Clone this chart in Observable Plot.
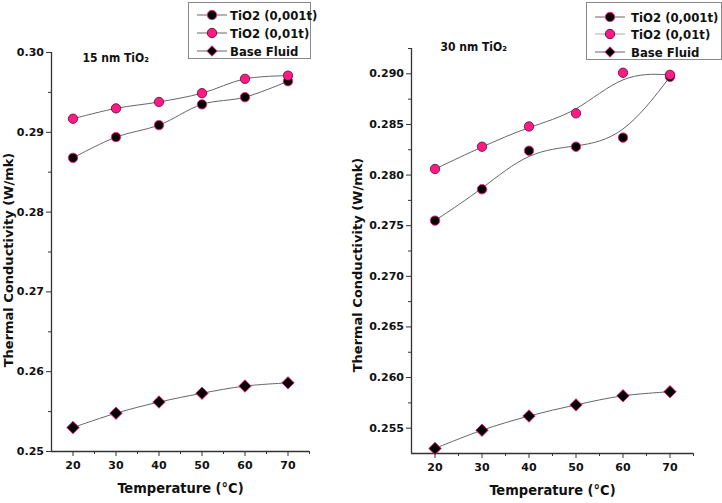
<!DOCTYPE html>
<html>
<head>
<meta charset="utf-8">
<script src="https://cdn.jsdelivr.net/npm/d3@7"></script>
<script src="https://cdn.jsdelivr.net/npm/@observablehq/plot@0.6"></script>
<style>
  html, body { margin: 0; padding: 0; background: #fff; }
  #wrap { position: relative; width: 722px; height: 503px; overflow: hidden; background: #fff; font-family: "DejaVu Sans", sans-serif; font-weight: bold; }
  .panel { position: absolute; top: 0; }
  .legend { position: absolute; background: #fff; border: 1px solid #888; box-sizing: border-box; }
  .lrow { position: absolute; left: 0; height: 16px; display: flex; align-items: center; }
  .lrow span { font-family: "DejaVu Sans Condensed", "DejaVu Sans", sans-serif; font-stretch: condensed; font-size: 13px; color: #111; white-space: nowrap; }
</style>
</head>
<body>
<div id="wrap"></div>
<script>
// ---------- data ----------
const temps = [20, 30, 40, 50, 60, 70];
const seriesNames = ["TiO2 (0,001t)", "TiO2 (0,01t)", "Base Fluid"];

// 15 nm TiO2 panel
const tio2_15_001 = [0.2868, 0.2894, 0.2909, 0.2935, 0.2944, 0.2964];
const tio2_15_01  = [0.2917, 0.2930, 0.2938, 0.2949, 0.2967, 0.2971];
const base_15     = [0.2530, 0.2548, 0.2562, 0.2573, 0.2582, 0.2586];

// 30 nm TiO2 panel
const tio2_30_001 = [0.2755, 0.2786, 0.2824, 0.2828, 0.2837, 0.2897];
const tio2_30_01  = [0.2806, 0.2828, 0.2848, 0.2861, 0.2901, 0.2899];
const base_30     = [0.2530, 0.2548, 0.2562, 0.2573, 0.2582, 0.2586];

// tick labels
const xTicks = [20, 30, 40, 50, 60, 70];
const xMinor = [25, 35, 45, 55, 65, 75];
const yTicks15 = [0.25, 0.26, 0.27, 0.28, 0.29, 0.30];
const yMinor15 = [0.255, 0.265, 0.275, 0.285, 0.295];
const yTicks30 = [0.255, 0.260, 0.265, 0.270, 0.275, 0.280, 0.285, 0.290];
const yMinor30 = [0.2575, 0.2625, 0.2675, 0.2725, 0.2775, 0.2825, 0.2875, 0.2925];

// ---------- styles ----------
const PINK = "#ff1a88";
const DARK = "#5a0a2a";
const LINE = "#666";
const AXIS = "#333";
const COND = "DejaVu Sans Condensed, DejaVu Sans, sans-serif";

const rows = (vals) => temps.map((t, i) => ({t, k: vals[i]}));

function panel({width, margins, yDomain, yTicks, yMinor, yFmt, s001, s01, sBase, curveTio2, curveBase, title, titleDx, titleDy, yLabDx, yLabDy}) {
  const d001 = rows(s001), d01 = rows(s01), dB = rows(sBase);
  return Plot.plot({
    width, height: 503,
    marginLeft: margins[0], marginRight: margins[1], marginTop: margins[2], marginBottom: margins[3],
    style: {fontFamily: "DejaVu Sans", fontWeight: "bold", fontSize: "11px", color: "#111", background: "transparent", overflow: "visible"},
    x: {domain: [15, 75]},
    y: {domain: yDomain},
    marks: [
      Plot.axisY({ticks: yTicks, tickFormat: d3.format(yFmt), tickSize: 5, tickPadding: 2.5, label: null, stroke: AXIS, strokeWidth: 1, fill: "#111"}),
      Plot.axisY({ticks: yMinor, tickFormat: () => "", tickSize: 3, label: null, stroke: AXIS, strokeWidth: 1}),
      Plot.axisX({ticks: xTicks, tickSize: 5, tickPadding: 5, label: null, stroke: AXIS, strokeWidth: 1, fill: "#111"}),
      Plot.axisX({ticks: xMinor, tickFormat: () => "", tickSize: 3, label: null, stroke: AXIS, strokeWidth: 1}),
      Plot.ruleX([15], {stroke: AXIS, strokeWidth: 1.3}),
      Plot.ruleY([yDomain[0]], {stroke: AXIS, strokeWidth: 1.3}),
      Plot.line(dB, {x: "t", y: "k", stroke: LINE, strokeWidth: 1, curve: curveBase}),
      Plot.line(d001, {x: "t", y: "k", stroke: LINE, strokeWidth: 1, curve: curveTio2}),
      Plot.line(d01, {x: "t", y: "k", stroke: LINE, strokeWidth: 1, curve: curveTio2}),
      Plot.dot(dB, {x: "t", y: "k", symbol: "diamond2", r: 5.6, fill: "#000", stroke: PINK, strokeWidth: 0.9}),
      Plot.dot(d001, {x: "t", y: "k", r: 4.7, fill: "#000", stroke: PINK, strokeWidth: 0.9}),
      Plot.dot(d01, {x: "t", y: "k", r: 4.7, fill: PINK, stroke: DARK, strokeWidth: 0.8}),
      Plot.text(["Thermal Conductivity (W/mk)"], {frameAnchor: "left", rotate: -90, dx: yLabDx, dy: yLabDy, fontSize: 13, fontWeight: "bold", fill: "#111", textAnchor: "middle"}),
      Plot.text(["Temperature (°C)"], {frameAnchor: "bottom", dy: 41, fontSize: 14.5, fontFamily: COND, fontWeight: "bold", fill: "#111"}),
      Plot.text([title], {frameAnchor: "top-left", textAnchor: "start", lineAnchor: "bottom", dx: titleDx, dy: titleDy, fontSize: 12, fontFamily: COND, fontWeight: "bold", fill: "#111"})
    ]
  });
}

const wrap = document.getElementById("wrap");

const left = panel({
  width: 361, margins: [51, 52, 52, 52], yDomain: [0.25, 0.30], yTicks: yTicks15, yMinor: yMinor15, yFmt: ".2f",
  s001: tio2_15_001, s01: tio2_15_01, sBase: base_15, curveTio2: "catmull-rom", curveBase: "catmull-rom",
  title: "15 nm TiO₂", titleDx: 31, titleDy: 9, yLabDx: -43, yLabDy: 8
});
const right = panel({
  width: 382, margins: [71, 29, 48, 50], yDomain: [0.2525, 0.2925], yTicks: yTicks30, yMinor: yMinor30, yFmt: ".3f",
  s001: tio2_30_001, s01: tio2_30_01, sBase: base_30, curveTio2: "basis", curveBase: "catmull-rom",
  title: "30 nm TiO₂", titleDx: 29, titleDy: 2, yLabDx: -54, yLabDy: 14
});

const pl = document.createElement("div"); pl.className = "panel"; pl.style.left = "0px"; pl.appendChild(left); wrap.appendChild(pl);
const pr = document.createElement("div"); pr.className = "panel"; pr.style.left = "340px"; pr.appendChild(right); wrap.appendChild(pr);

// ---------- legends ----------
const legendSymbols = [
  {fill: "#000", stroke: PINK, shape: "circle", line: LINE},
  {fill: PINK, stroke: DARK, shape: "circle", line: LINE},
  {fill: "#000", stroke: PINK, shape: "diamond", line: LINE}
];
function addLegend(x, y, w, h, lineLeft, textLeft, rowTops, secondLine) {
  const box = document.createElement("div");
  box.className = "legend";
  Object.assign(box.style, {left: x + "px", top: y + "px", width: w + "px", height: h + "px"});
  seriesNames.forEach((name, i) => {
    const s = legendSymbols[i];
    const row = document.createElement("div");
    row.className = "lrow";
    row.style.top = rowTops[i] + "px";
    row.style.left = lineLeft + "px";
    const lc = (i === 1 && secondLine) ? secondLine : s.line;
    const shape = s.shape === "circle"
      ? `<circle cx="15" cy="8" r="4.7" fill="${s.fill}" stroke="${s.stroke}" stroke-width="0.9"/>`
      : `<path d="M15,2.8L20.2,8L15,13.2L9.8,8Z" fill="${s.fill}" stroke="${s.stroke}" stroke-width="0.9"/>`;
    row.innerHTML = `<svg width="${textLeft - lineLeft}" height="16"><line x1="0" x2="30" y1="8" y2="8" stroke="${lc}" stroke-width="1"/>${shape}</svg><span>${name}</span>`;
    box.appendChild(row);
  });
  wrap.appendChild(box);
}
addLegend(188, 2, 123, 57, 8, 41, [4, 22, 40], null);
addLegend(586, 2, 136, 58, 8, 44, [6, 23, 41], "#aaa");
</script>
</body>
</html>
